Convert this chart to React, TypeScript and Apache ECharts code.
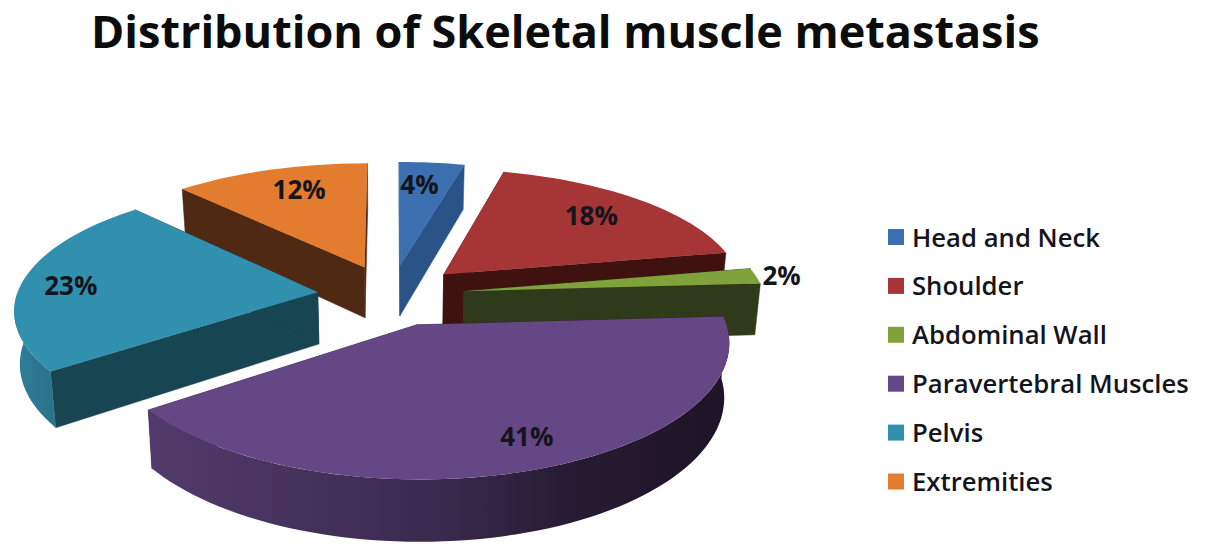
import React, { useEffect, useRef } from "react";
import * as echarts from "echarts";

const categories = ["Head and Neck", "Shoulder", "Abdominal Wall", "Paravertebral Muscles", "Pelvis", "Extremities"];
const percentages = [4, 18, 2, 41, 23, 12];
const chartTitle = "Distribution of Skeletal muscle metastasis";
const topColors = ["#3b6fb0", "#a53635", "#7fa23d", "#654785", "#3090ad", "#e37c2e"];
const wallColors = ["#2a5488", "#3f1210", "#2e3a19", "#2c1f3c", "#174552", "#4f2912"];
const layerOrder = [2, 3, 4, 6, 5, 1];
const labelRadius = [0.78, 0.77, 1.1, 0.79, 0.83, 0.77];
const labelNudge = [[-6, 1], [-5, -1], [-3, 1], [16, 1], [-2, 2], [9, -1]];

const CX = 391, CY = 295, KX = 301, KY = 125, PERSP_X = 0.122, PERSP_Y = 0.135, EXPLODE = 0.245, DEPTH = 52, BOTTOM_SHRINK = 0.985;
const rad = (d: number) => (d * Math.PI) / 180;

function project(u: number, v: number, bottom: boolean): number[] {
  const sx = 1 / (1 + PERSP_X * v);
  const sy = 1 / (1 + PERSP_Y * v);
  const x = KX * u * sx;
  const y = -KY * v * sy;
  return bottom ? [CX + x * BOTTOM_SHRINK, CY + y + DEPTH * sy] : [CX + x, CY + y];
}

function makeRender(index: number) {
  const before = percentages.slice(0, index).reduce((a, b) => a + b, 0);
  return (_params: any, api: any) => {
    const value = api.value(0);
    const a0 = (before / 100) * 360;
    const a1 = ((before + value) / 100) * 360;
    const mid = (a0 + a1) / 2;
    const ox = EXPLODE * Math.sin(rad(mid));
    const oy = EXPLODE * Math.cos(rad(mid));
    const rim = (deg: number, bottom: boolean) => project(ox + Math.sin(rad(deg)), oy + Math.cos(rad(deg)), bottom);
    const apexT = project(ox, oy, false);
    const apexB = project(ox, oy, true);
    const arc = (from: number, to: number, bottom: boolean) => {
      const n = Math.max(2, Math.ceil(Math.abs(to - from) / 2));
      const pts: number[][] = [];
      for (let i = 0; i <= n; i++) pts.push(rim(from + ((to - from) * i) / n, bottom));
      return pts;
    };
    const wall = wallColors[index];
    const children: any[] = [];
    const radial = (deg: number) => ({
      type: "polygon",
      shape: { points: [apexT, rim(deg, false), rim(deg, true), apexB] },
      style: { fill: wall, stroke: wall, lineWidth: 0.5 },
    });
    children.push(radial(a0), radial(a1));
    const f0 = Math.max(a0, 90);
    const f1 = Math.min(a1, 270);
    if (f1 > f0) {
      const fill =
        index === 3
          ? {
              type: "linear", x: 0, y: 0, x2: 1, y2: 0,
              colorStops: [
                { offset: 0, color: "#523b6c" },
                { offset: 0.5, color: "#3a2a4e" },
                { offset: 0.72, color: "#271b33" },
                { offset: 1, color: "#1d1426" },
              ],
            }
          : {
              type: "linear", x: 0, y: 0, x2: 1, y2: 0,
              colorStops: [
                { offset: 0, color: "#2f7f98" },
                { offset: 1, color: "#2a7189" },
              ],
            };
      children.push({
        type: "polygon",
        shape: { points: [...arc(f0, f1, false), ...arc(f1, f0, true)] },
        style: { fill },
      });
    }
    children.push({
      type: "polygon",
      shape: { points: [apexT, ...arc(a0, a1, false)] },
      style: { fill: topColors[index] },
    });
    const lr = labelRadius[index];
    const lp = project(ox + lr * Math.sin(rad(mid)), oy + lr * Math.cos(rad(mid)), false);
    children.push({
      type: "text",
      x: lp[0] + labelNudge[index][0],
      y: lp[1] + labelNudge[index][1],
      style: {
        text: `${value}%`,
        align: "center",
        verticalAlign: "middle",
        fill: "#14141c",
        font: '700 26px "Open Sans"',
      },
    });
    return { type: "group", children };
  };
}

export default function App() {
  const ref = useRef<HTMLDivElement>(null);
  useEffect(() => {
    const chart = echarts.init(ref.current!, undefined, { renderer: "svg" });
    chart.setOption({
      animation: false,
      backgroundColor: "#ffffff",
      title: {
        text: chartTitle,
        left: 86,
        top: 3,
        textStyle: { fontFamily: "Open Sans", fontWeight: 700, fontSize: 45, color: "#0c0c0c" },
      },
      legend: {
        orient: "vertical",
        left: 883,
        top: 219,
        itemWidth: 16,
        itemHeight: 16,
        itemGap: 22.9,
        icon: "rect",
        selectedMode: false,
        data: categories.map((name, i) => ({ name, itemStyle: { color: topColors[i] } })),
        textStyle: {
          fontFamily: "Open Sans",
          fontWeight: 600,
          fontSize: 25.7,
          lineHeight: 16,
          color: "#14141c",
          padding: [0, 0, 0, 3],
        },
      },
      series: categories.map((name, i) => ({
        type: "custom",
        name,
        coordinateSystem: "none",
        silent: true,
        z: layerOrder[i] + 2,
        itemStyle: { color: topColors[i] },
        data: [[percentages[i]]],
        renderItem: makeRender(i),
      })),
    });
    return () => chart.dispose();
  }, []);
  return <div ref={ref} style={{ position: "fixed", left: 0, top: 0, width: 1205, height: 555 }} />;
}
